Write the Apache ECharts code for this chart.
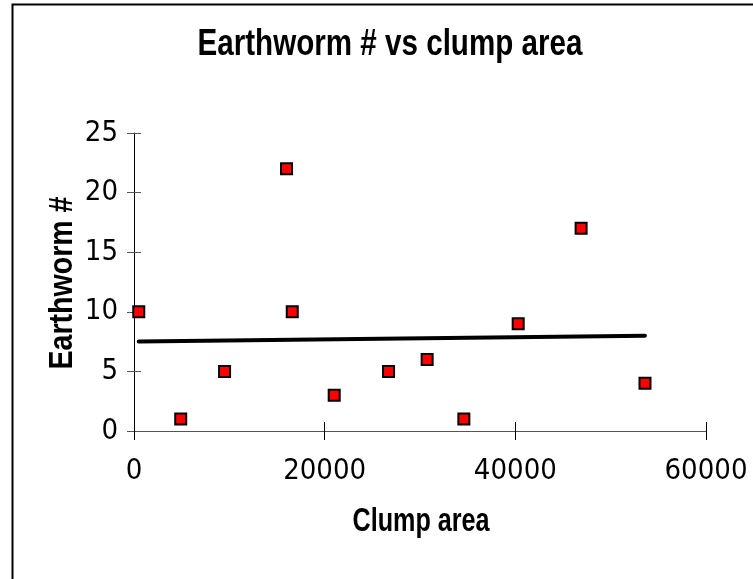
<!DOCTYPE html>
<html>
<head>
<meta charset="utf-8">
<script src="https://cdn.jsdelivr.net/npm/echarts@6/dist/echarts.min.js"></script>
<style>
html,body{margin:0;padding:0;background:#fff;}
#chart{width:753px;height:579px;}
</style>
</head>
<body>
<div id="chart"></div>
<script>
// Data
const clumpArea = [500, 4900, 9500, 16000, 16600, 21000, 26700, 30750, 34600, 40300, 46900, 53600];
const earthworms = [10, 1, 5, 22, 10, 3, 5, 6, 1, 9, 17, 4];
// Trend line end points
const trendX = [500, 53600];
const trendY = [7.5, 8.0];

const titleText = 'Earthworm # vs clump area';
const xName = 'Clump area';
const yName = 'Earthworm #';

const points = clumpArea.map((x, i) => [x, earthworms[i]]);
const trend = trendX.map((x, i) => [x, trendY[i]]);

const titleFont = '"Liberation Sans", Arial, sans-serif';
const tickFont = '"DejaVu Sans Condensed", "DejaVu Sans", sans-serif';

const chart = echarts.init(document.getElementById('chart'), null, {renderer: 'canvas'});

const grid = {left: 134, right: 47, top: 133, bottom: 148};

chart.setOption({
  backgroundColor: '#fff',
  animation: false,
  grid: grid,
  xAxis: [{
    type: 'value', min: 0, max: 60000, interval: 20000,
    position: 'bottom',
    axisLine: {show: true, onZero: false, lineStyle: {color: '#555', width: 1}},
    axisTick: {show: true, inside: false, length: 9, lineStyle: {color: '#000', width: 1}},
    axisLabel: {margin: 26, fontFamily: tickFont, fontSize: 29, color: '#000', formatter: v => String(v)},
    splitLine: {show: false}
  }, {
    type: 'value', min: 0, max: 60000, interval: 20000,
    position: 'bottom',
    axisLine: {show: false, onZero: false},
    axisTick: {show: true, inside: true, length: 9, lineStyle: {color: '#000', width: 1}},
    axisLabel: {show: false},
    splitLine: {show: false}
  }],
  yAxis: [{
    type: 'value', min: 0, max: 25, interval: 5,
    position: 'left',
    axisLine: {show: true, onZero: false, lineStyle: {color: '#000', width: 1}},
    axisTick: {show: true, inside: false, length: 7, lineStyle: {color: '#555', width: 1}},
    axisLabel: {margin: 16, fontFamily: tickFont, fontSize: 29, color: '#000'},
    splitLine: {show: false}
  }, {
    type: 'value', min: 0, max: 25, interval: 5,
    position: 'left',
    axisLine: {show: false, onZero: false},
    axisTick: {show: true, inside: true, length: 7, lineStyle: {color: '#555', width: 1}},
    axisLabel: {show: false},
    splitLine: {show: false}
  }],
  graphic: [{
    type: 'rect',
    shape: {x: 12.5, y: 4.5, width: 800, height: 700},
    style: {fill: 'none', stroke: '#000', lineWidth: 2},
    silent: true,
    z: 100
  }, {
    type: 'text',
    x: 390, y: 45,
    scaleX: 0.8,
    style: {text: titleText, fontFamily: titleFont, fontSize: 37, fontWeight: 'bold', fill: '#000', align: 'center', verticalAlign: 'middle'},
    silent: true
  }, {
    type: 'text',
    x: 421, y: 522,
    scaleX: 0.74,
    style: {text: xName, fontFamily: titleFont, fontSize: 34, fontWeight: 'bold', fill: '#000', align: 'center', verticalAlign: 'middle'},
    silent: true
  }, {
    type: 'text',
    x: 63, y: 283,
    rotation: Math.PI / 2,
    scaleX: 0.84,
    style: {text: yName, fontFamily: titleFont, fontSize: 34, fontWeight: 'bold', fill: '#000', align: 'center', verticalAlign: 'middle'},
    silent: true
  }],
  series: [{
    type: 'line',
    data: trend,
    xAxisIndex: 0, yAxisIndex: 0,
    symbol: 'none',
    lineStyle: {color: '#000', width: 4, cap: 'round'},
    z: 2
  }, {
    type: 'scatter',
    data: points,
    xAxisIndex: 0, yAxisIndex: 0,
    symbol: 'rect',
    symbolSize: 11,
    itemStyle: {color: '#ff0000', borderColor: '#000', borderWidth: 2, opacity: 1},
    z: 3
  }]
});
</script>
</body>
</html>
